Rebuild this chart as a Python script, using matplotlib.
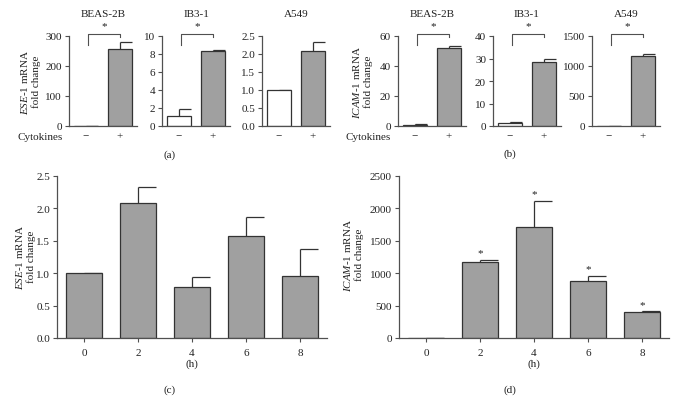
import numpy as np
import matplotlib
matplotlib.use('Agg')
import matplotlib.pyplot as plt
import matplotlib.transforms as mtransforms

plt.rcParams['font.family'] = ['Liberation Serif', 'DejaVu Serif']
plt.rcParams['mathtext.fontset'] = 'custom'
plt.rcParams['mathtext.rm'] = 'Liberation Serif'
plt.rcParams['mathtext.it'] = 'Liberation Serif:italic'

# data
cells = ['BEAS-2B', 'IB3-1', 'A549']
treat = ['\u2212', '+']

ese1_mean = [[1.0, 258], [1.15, 8.35], [1.0, 2.08]]
ese1_err = [[0.0, 22], [0.7, 0.1], [0.01, 0.25]]
ese1_ymax = [300, 10, 2.5]
ese1_yticks = [[0, 100, 200, 300], [0, 2, 4, 6, 8, 10], [0, 0.5, 1.0, 1.5, 2.0, 2.5]]
ese1_sig = [True, True, False]

icam1_mean = [[1.0, 52.3], [1.2, 28.3], [1.0, 1170]]
icam1_err = [[0.1, 1.3], [0.5, 1.3], [0.0, 30]]
icam1_ymax = [60, 40, 1500]
icam1_yticks = [[0, 20, 40, 60], [0, 10, 20, 30, 40], [0, 500, 1000, 1500]]
icam1_sig = [True, True, True]

hours = [0, 2, 4, 6, 8]
ese1_time = [1.0, 2.08, 0.78, 1.57, 0.95]
ese1_time_err = [0.01, 0.25, 0.16, 0.29, 0.43]
icam1_time = [1.0, 1170, 1720, 880, 400]
icam1_time_err = [0.0, 30, 400, 80, 10]
icam1_time_sig = [False, True, True, True, True]

W, H = 679, 402
TXT = '#222222'
AX = '#505050'
GRAY = '#a0a0a0'
EDGE = '#333333'
FS = 8

fig = plt.figure(figsize=(W / 100, H / 100), dpi=100)


def px_axes(left, top, right, bottom):
    return fig.add_axes([left / W, 1 - bottom / H, (right - left) / W, (bottom - top) / H])


def style(ax):
    for s in ['top', 'right']:
        ax.spines[s].set_visible(False)
    for s in ['left', 'bottom']:
        ax.spines[s].set_color(AX)
        ax.spines[s].set_linewidth(0.9)
    ax.tick_params(axis='y', direction='out', length=3, width=0.8, color=AX,
                   labelsize=FS, labelcolor=TXT, pad=2)


def err_bars(ax, x, y, e, w):
    x = np.asarray(x, float)
    top = np.asarray(y, float) + np.asarray(e, float)
    ax.vlines(x, y, top, color=EDGE, lw=0.9, zorder=1)
    ax.hlines(top, x, x + w / 2, color=EDGE, lw=0.9, zorder=1)


def small_panel(left, mean, err, ymax, yticks, title, sig):
    ax = px_axes(left, 37, left + 68, 127)
    style(ax)
    x = np.arange(2)
    w = 0.68
    err_bars(ax, x, mean, err, w)
    ax.bar(x, mean, width=w, color=['white', GRAY], edgecolor=EDGE, lw=0.9, zorder=2)
    ax.set_xlim(-0.5, 1.5)
    ax.set_ylim(0, ymax)
    ax.set_yticks(yticks)
    if ymax == 2.5:
        ax.set_yticklabels([f'{t:.1f}' for t in yticks])
    ax.set_xticks(x)
    ax.set_xticklabels(treat)
    ax.tick_params(axis='x', length=0, labelsize=FS, labelcolor=TXT, pad=4)
    ax.text(0.5, 1.255, title, transform=ax.transAxes, ha='center', va='center',
            fontsize=FS, color=TXT)
    if sig:
        tr = mtransforms.blended_transform_factory(ax.transData, ax.transAxes)
        ax.plot([0.06, 0.06, 1.0, 1.0], [0.9, 1.022, 1.022, 0.99], color=AX, lw=0.8,
                transform=tr, clip_on=False)
        ax.text(0.53, 1.06, '*', transform=tr, ha='center', va='bottom', fontsize=FS,
                color=TXT)
    return ax


lefts_a = [69, 162, 262]
lefts_b = [398, 493, 592]
for i in range(3):
    small_panel(lefts_a[i], ese1_mean[i], ese1_err[i], ese1_ymax[i], ese1_yticks[i],
                cells[i], ese1_sig[i])
    small_panel(lefts_b[i], icam1_mean[i], icam1_err[i], icam1_ymax[i], icam1_yticks[i],
                cells[i], icam1_sig[i])

ese_lab = r'$\mathit{ESE}$-$\mathit{1}$ mRNA' + '\nfold change'
icam_lab = r'$\mathit{ICAM}$-$\mathit{1}$ mRNA' + '\nfold change'

fig.text(63 / W, 1 - 137 / H, 'Cytokines', ha='right', va='center', fontsize=FS, color=TXT)
fig.text(391 / W, 1 - 137 / H, 'Cytokines', ha='right', va='center', fontsize=FS, color=TXT)
fig.text(30 / W, 1 - 82 / H, ese_lab, rotation=90, ha='center', va='center',
         fontsize=FS, color=TXT, linespacing=1.05)
fig.text(362 / W, 1 - 82 / H, icam_lab, rotation=90, ha='center', va='center',
         fontsize=FS, color=TXT, linespacing=1.05)
fig.text(170 / W, 1 - 155 / H, '(a)', ha='center', va='center', fontsize=FS, color=TXT)
fig.text(510 / W, 1 - 154 / H, '(b)', ha='center', va='center', fontsize=FS, color=TXT)


def time_panel(left, vals, errs, ymax, yticks, sig=None):
    ax = px_axes(left, 177, left + 270, 339)
    style(ax)
    x = np.arange(len(hours))
    w = 0.67
    err_bars(ax, x, vals, errs, w)
    ax.bar(x, vals, width=w, color=GRAY, edgecolor=EDGE, lw=0.9, zorder=2)
    ax.set_xlim(-0.5, len(hours) - 0.5)
    ax.set_ylim(0, ymax)
    ax.set_yticks(yticks)
    ax.set_xticks(x)
    ax.set_xticklabels([str(h) for h in hours])
    ax.tick_params(axis='x', direction='out', length=3, width=0.8, color=AX,
                   labelsize=FS, labelcolor=TXT, pad=4)
    ax.set_xlabel('(h)', fontsize=FS, color=TXT, labelpad=1)
    if sig is not None:
        for xi, v, e, s in zip(x, vals, errs, sig):
            if s:
                ax.annotate('*', (xi, v + e), xytext=(0, 2), textcoords='offset points',
                            ha='center', va='bottom', fontsize=FS, color=TXT)
    return ax


axc = time_panel(57, ese1_time, ese1_time_err, 2.5, [0, 0.5, 1.0, 1.5, 2.0, 2.5])
axc.set_yticklabels(['0.0', '0.5', '1.0', '1.5', '2.0', '2.5'])
time_panel(399, icam1_time, icam1_time_err, 2500, [0, 500, 1000, 1500, 2000, 2500],
           icam1_time_sig)

fig.text(25 / W, 1 - 257 / H, ese_lab, rotation=90, ha='center', va='center',
         fontsize=FS, color=TXT, linespacing=1.05)
fig.text(353 / W, 1 - 255 / H, icam_lab, rotation=90, ha='center', va='center',
         fontsize=FS, color=TXT, linespacing=1.05)
fig.text(170 / W, 1 - 390 / H, '(c)', ha='center', va='center', fontsize=FS, color=TXT)
fig.text(510 / W, 1 - 390 / H, '(d)', ha='center', va='center', fontsize=FS, color=TXT)

fig.savefig('out.png', dpi=100)
